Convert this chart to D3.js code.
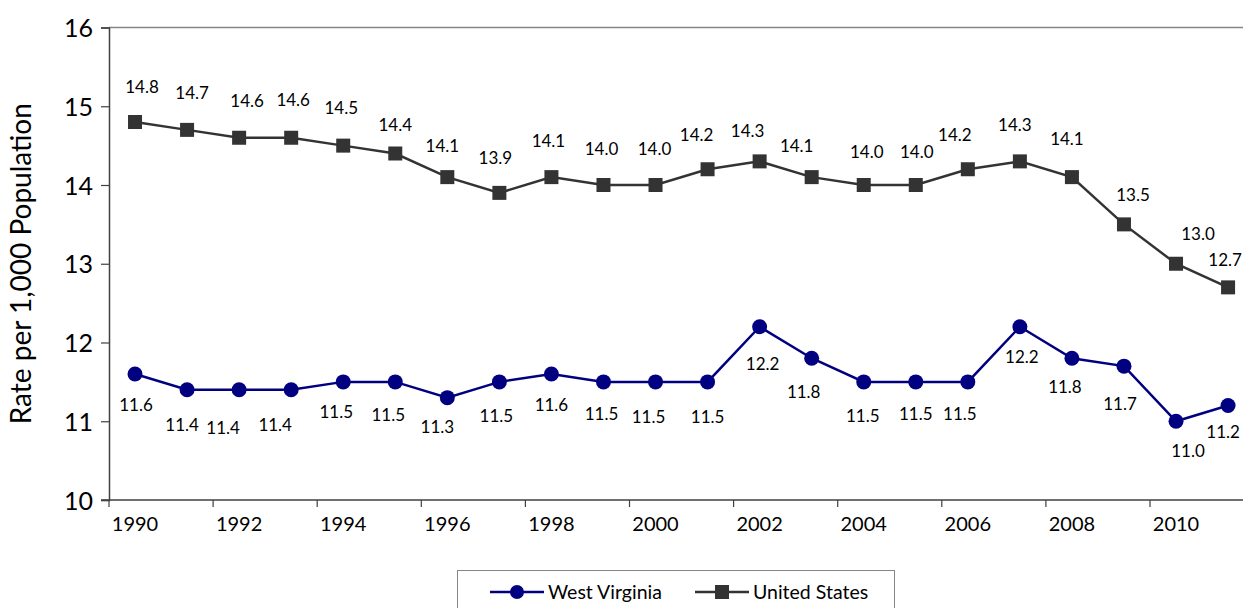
<!DOCTYPE html>
<html>
<head>
<meta charset="utf-8">
<script src="https://cdn.jsdelivr.net/npm/d3@7"></script>
<style>
  body { margin: 0; background: #fff; }
  svg text { font-family: "Lato", "Open Sans", sans-serif; fill: #000; }
</style>
</head>
<body>
<div id="chart"></div>
<script>
const years = d3.range(1990, 2012);
const westVirginia = [11.6, 11.4, 11.4, 11.4, 11.5, 11.5, 11.3, 11.5, 11.6, 11.5, 11.5,
                      11.5, 12.2, 11.8, 11.5, 11.5, 11.5, 12.2, 11.8, 11.7, 11.0, 11.2];
const unitedStates = [14.8, 14.7, 14.6, 14.6, 14.5, 14.4, 14.1, 13.9, 14.1, 14.0, 14.0,
                      14.2, 14.3, 14.1, 14.0, 14.0, 14.2, 14.3, 14.1, 13.5, 13.0, 12.7];
const yTicks = [10, 11, 12, 13, 14, 15, 16];
const xTickYears = years.filter(d => d % 2 === 0);

// label nudges (label placement is not uniform)
const wvNudge = [[1,31],[-5,35],[-16,38],[-16,35],[-7,30],[-7,33],[-10,29],[-3,34],[0,31],[-2,32],[-7,35],
                 [0,35],[3,37],[-8,34],[-1,34],[0,32],[-8,32],[2,30],[-7,29],[-4,38],[12,30],[-5,26]];
const usNudge = [[7,-35],[5,-37],[8,-37],[2,-38],[-2,-38],[0,-29],[-5,-31],[-4,-35],[-3,-36],[-2,-36],[-1,-36],
                 [-11,-34],[-12,-30],[-15,-31],[3,-33],[1,-33],[-13,-34],[-5,-36],[-5,-38],[9,-29],[22,-30],[-3,-27]];

const width = 1243, height = 608;
const margin = {top: 27.5, left: 109, bottom: 108};
const step = 52.05;

const svg = d3.select("#chart").append("svg")
    .attr("width", width)
    .attr("height", height);

const x = d3.scaleBand()
    .domain(years)
    .range([margin.left, margin.left + step * years.length]);

const y = d3.scaleLinear()
    .domain([10, 16])
    .range([height - margin.bottom, margin.top]);

const cx = d => x(d) + x.bandwidth() / 2;

/* top border of plot area */
svg.append("line")
    .attr("x1", margin.left).attr("x2", width)
    .attr("y1", y(16)).attr("y2", y(16))
    .attr("stroke", "#868686").attr("stroke-width", 1.5);

/* y axis */
const yAxis = svg.append("g")
    .attr("transform", `translate(${margin.left},0)`)
    .call(d3.axisLeft(y).tickValues(yTicks).tickSize(8).tickPadding(8).tickFormat(d3.format("d")));
yAxis.select(".domain").attr("stroke", "#404040").attr("stroke-width", 1.5);
yAxis.selectAll(".tick line").attr("stroke", "#404040").attr("stroke-width", 1.2);
yAxis.selectAll(".tick text").style("font-size", "25px").attr("dy", "0.36em");

/* x axis */
const xAxis = svg.append("g")
    .attr("transform", `translate(0,${y(10)})`);
xAxis.append("line")
    .attr("x1", margin.left - 8).attr("x2", width)
    .attr("stroke", "#404040").attr("stroke-width", 1.5);
xAxis.selectAll(".tk")
    .data(xTickYears)
    .enter()
    .append("line")
        .attr("x1", d => x(d)).attr("x2", d => x(d))
        .attr("y1", 0).attr("y2", 7)
        .attr("stroke", "#404040").attr("stroke-width", 1.2);
xAxis.selectAll(".lbl")
    .data(xTickYears)
    .enter()
    .append("text")
        .attr("x", d => cx(d))
        .attr("y", 24)
        .attr("dy", "0.36em")
        .attr("text-anchor", "middle")
        .style("font-size", "20px")
        .text(d => d);

svg.append("text")
    .attr("transform", `translate(31,${(y(10) + y(16)) / 2}) rotate(-90)`)
    .attr("text-anchor", "middle")
    .style("font-size", "28px")
    .text("Rate per 1,000 Population");

/* lines */
const line = d3.line()
    .x((d, i) => cx(years[i]))
    .y(d => y(d));

svg.append("path")
    .datum(unitedStates)
    .attr("d", line)
    .attr("fill", "none")
    .attr("stroke", "#333333")
    .attr("stroke-width", 2.5);

svg.append("path")
    .datum(westVirginia)
    .attr("d", line)
    .attr("fill", "none")
    .attr("stroke", "#000080")
    .attr("stroke-width", 2.5);

svg.selectAll(".usPt")
    .data(unitedStates)
    .enter()
    .append("rect")
        .attr("x", (d, i) => cx(years[i]) - 7)
        .attr("y", d => y(d) - 7)
        .attr("width", 14).attr("height", 14)
        .attr("fill", "#333333");

svg.selectAll(".wvPt")
    .data(westVirginia)
    .enter()
    .append("circle")
        .attr("cx", (d, i) => cx(years[i]))
        .attr("cy", d => y(d))
        .attr("r", 7.5)
        .attr("fill", "#000080");

/* data labels */
svg.selectAll(".usLbl")
    .data(unitedStates)
    .enter()
    .append("text")
        .attr("x", (d, i) => cx(years[i]) + usNudge[i][0])
        .attr("y", (d, i) => y(d) + usNudge[i][1])
        .attr("dy", "0.36em")
        .attr("text-anchor", "middle")
        .style("font-size", "17px")
        .text(d => d.toFixed(1));

svg.selectAll(".wvLbl")
    .data(westVirginia)
    .enter()
    .append("text")
        .attr("x", (d, i) => cx(years[i]) + wvNudge[i][0])
        .attr("y", (d, i) => y(d) + wvNudge[i][1])
        .attr("dy", "0.36em")
        .attr("text-anchor", "middle")
        .style("font-size", "17px")
        .text(d => d.toFixed(1));

/* legend */
const legend = svg.append("g");
legend.append("rect")
    .attr("x", 457.5).attr("y", 570.5)
    .attr("width", 437).attr("height", 50)
    .attr("fill", "#fff")
    .attr("stroke", "#868686").attr("stroke-width", 1);

const legendItems = [
    {name: "West Virginia", color: "#000080", shape: "circle", x: 490},
    {name: "United States", color: "#333333", shape: "square", x: 695}
];
legendItems.forEach(function(it) {
    const g = legend.append("g").attr("transform", `translate(${it.x},592)`);
    g.append("line").attr("x1", 0).attr("x2", 54)
        .attr("stroke", it.color).attr("stroke-width", 2.5);
    if (it.shape === "circle") {
        g.append("circle").attr("cx", 27).attr("r", 7).attr("fill", it.color);
    } else {
        g.append("rect").attr("x", 20).attr("y", -7).attr("width", 14).attr("height", 14).attr("fill", it.color);
    }
    g.append("text").attr("x", 58).attr("dy", "0.36em")
        .style("font-size", "19.5px")
        .text(it.name);
});
</script>
</body>
</html>
